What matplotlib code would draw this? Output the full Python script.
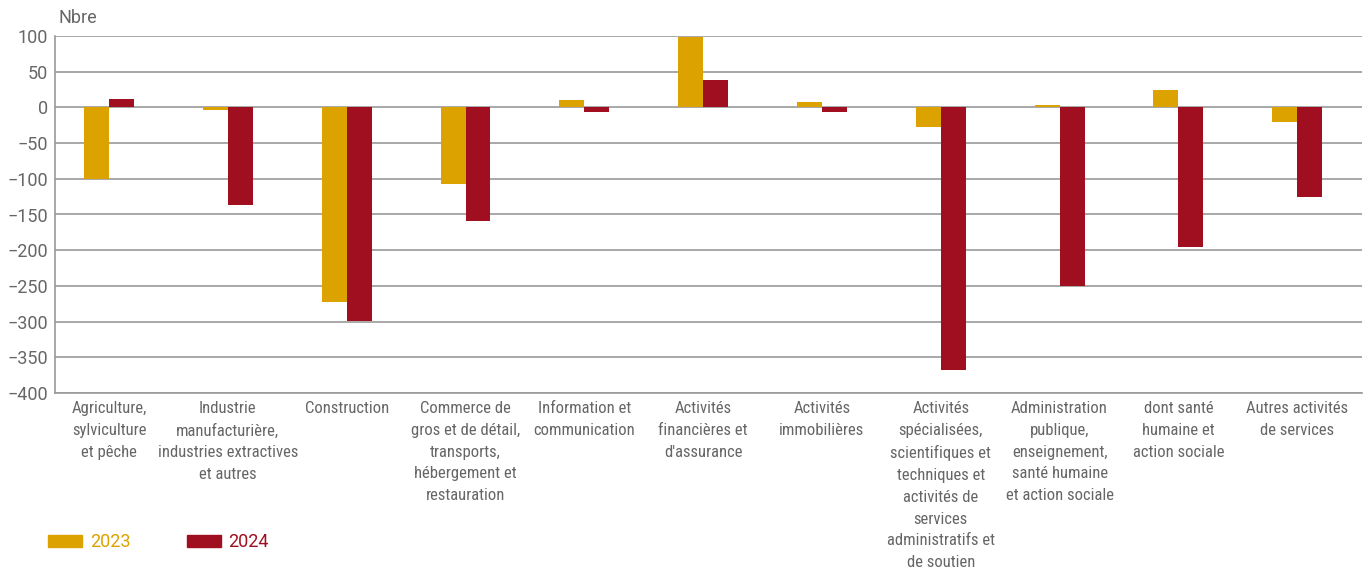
import matplotlib
matplotlib.use('Agg')
import matplotlib.pyplot as plt
from matplotlib.patches import Patch
import numpy as np

categories = [
    "Agriculture,\nsylviculture\net pêche",
    "Industrie\nmanufacturière,\nindustries extractives\net autres",
    "Construction",
    "Commerce de\ngros et de détail,\ntransports,\nhébergement et\nrestauration",
    "Information et\ncommunication",
    "Activités\nfinancières et\nd'assurance",
    "Activités\nimmobilières",
    "Activités\nspécialisées,\nscientifiques et\ntechniques et\nactivités de\nservices\nadministratifs et\nde soutien",
    "Administration\npublique,\nenseignement,\nsanté humaine\net action sociale",
    "dont santé\nhumaine et\naction sociale",
    "Autres activités\nde services",
]
values_2023 = [-100, -3, -272, -107, 11, 98, 8, -28, 3, 25, -21]
values_2024 = [12, -136, -299, -159, -6, 38, -6, -368, -250, -195, -125]

gold = '#DCA200'
red = '#A00F1F'
grey = '#666666'
cond = ['Roboto Condensed', 'Roboto', 'DejaVu Sans']

plt.rcParams['font.family'] = ['Roboto', 'DejaVu Sans']

fig = plt.figure(figsize=(13.7, 5.72), dpi=100)
ax = fig.add_axes([55 / 1370, 1 - 393 / 572, 1307 / 1370, 357 / 572])

x = np.arange(len(categories))
w = 0.21
ax.bar(x - w / 2, values_2023, w, color=gold, zorder=3)
ax.bar(x + w / 2, values_2024, w, color=red, zorder=3)

ax.set_ylim(-400, 100)
ax.set_xlim(-0.455, 10.545)
ax.set_yticks(np.arange(-400, 101, 50))
ax.yaxis.grid(True, color='#9a9a9a', linewidth=1.2, zorder=0)
ax.tick_params(axis='y', length=0, labelsize=13, labelcolor=grey, pad=5)
ax.set_xticks(x)
ax.set_xticklabels(categories, fontsize=12, color=grey, linespacing=1.56, family=cond)
ax.tick_params(axis='x', length=0, pad=6)

for s in ['top', 'right']:
    ax.spines[s].set_visible(False)
for s in ['left', 'bottom']:
    ax.spines[s].set_color('#9a9a9a')
    ax.spines[s].set_linewidth(1.2)

fig.text(58 / 1370, 1 - 18 / 572, 'Nbre', fontsize=13, color=grey, va='center', ha='left')

handles = [Patch(color=gold), Patch(color=red)]
leg = fig.legend(handles, ['2023', '2024'], loc='center left',
                 bbox_to_anchor=(48 / 1370, 1 - 542 / 572), ncol=2, frameon=False,
                 fontsize=13, handlelength=1.89, handleheight=0.65,
                 handletextpad=0.44, columnspacing=3.1, borderpad=0, borderaxespad=0)
for t, c in zip(leg.get_texts(), [gold, red]):
    t.set_color(c)

fig.savefig('out.png', dpi=100)
